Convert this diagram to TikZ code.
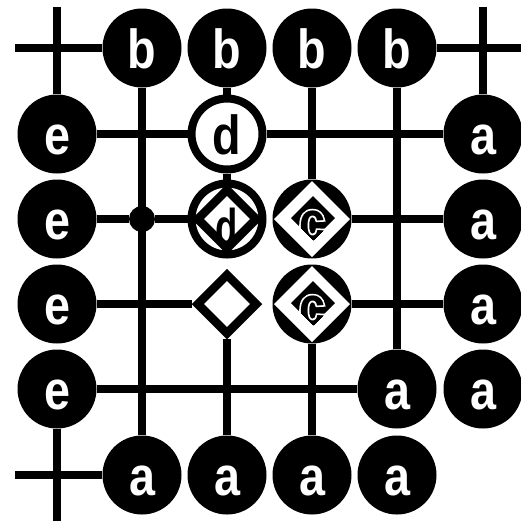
\documentclass[tikz,border=0pt]{standalone}
\usepackage{fontspec}
\newfontfamily\labfont[FakeStretch=0.85]{Liberation Sans}
\newfontfamily\halofont[FakeStretch=0.85,FakeBold=6]{Liberation Sans}
\usetikzlibrary{shapes.geometric,calc}
\tikzset{
  lbl/.style={font=\labfont\bfseries\fontsize{55}{55}\selectfont, text height=40pt, text depth=0pt, inner sep=0pt},
  halo/.style={font=\halofont\bfseries\fontsize{55}{55}\selectfont, text height=40pt, text depth=0pt, inner sep=0pt, text=white},
  blk/.style={circle, fill=black, minimum size=79pt, inner sep=0pt, lbl, text=white},
  ring/.style={circle, draw=black, line width=8pt, fill=white, minimum size=71pt, inner sep=0pt, lbl, text=black},
  wire/.style={line width=7.5pt},
  dmd/.style={diamond, draw=black, line width=8.5pt, fill=white, minimum width=62pt, minimum height=62pt, inner sep=0pt},
  joint/.style={circle, fill=black, minimum size=26pt, inner sep=0pt},
}
\begin{document}
\begin{tikzpicture}[x=1pt,y=-1pt]
\useasboundingbox (0,0) rectangle (521,520);
\clip (0,0) rectangle (521,520);
% top row
\node[blk] (b1) at (142,48) {b};
\node[blk] (b2) at (227,48) {b};
\node[blk] (b3) at (312,48) {b};
\node[blk] (b4) at (397,48) {b};
% left column
\node[blk] (e1) at (57,134) {e};
\node[blk] (e2) at (57,219) {e};
\node[blk] (e3) at (57,304) {e};
\node[blk] (e4) at (57,389) {e};
% right column
\node[blk] (r1) at (483,134) {a};
\node[blk] (r2) at (483,219) {a};
\node[blk] (r3) at (483,304) {a};
\node[blk] (r4) at (483,389) {a};
\node[blk] (a44) at (397,389) {a};
% bottom row
\node[blk] (u1) at (142,475) {a};
\node[blk] (u2) at (227,475) {a};
\node[blk] (u3) at (312,475) {a};
\node[blk] (u4) at (397,475) {a};
% inner
\node[ring] (d1) at (227,134) {d};
\node[joint] (jt) at (142,219) {};
\node[ring] (d2) at (227,219) {};
\node[dmd] (d2m) at (d2) {};
\node[lbl, text=black] (d2t) at (227,225) {\scalebox{0.78}[0.94]{d}};
\node[dmd] (dm) at (227,304) {};
% c nodes
\foreach \nm/\yy in {c2/219,c3/304}{
  \node[blk] (\nm) at (312,\yy) {};
  \fill[white] ($(\nm)+(-38,0)$) -- ($(\nm)+(0,-38)$) -- ($(\nm)+(38,0)$) -- ($(\nm)+(0,38)$) -- cycle;
  \fill[black] ($(\nm)+(-21,-1)$) -- ($(\nm)+(1,-23)$) -- ($(\nm)+(23,-1)$) -- ($(\nm)+(1,21)$) -- cycle;
  \node[halo] (\nm h) at ($(\nm)+(0,1)$) {c};
  \begin{scope}
    \clip ($(\nm)+(-21,-1)$) -- ($(\nm)+(1,-23)$) -- ($(\nm)+(23,-1)$) -- ($(\nm)+(1,21)$) -- cycle;
    \node[lbl, text=black] (\nm t) at ($(\nm)+(0,1)$) {c};
  \end{scope}
}
% free ends
\coordinate (tlW) at (15,48);
\coordinate (tlN) at (57,7);
\coordinate (trE) at (530,48);
\coordinate (trN) at (483,7);
\coordinate (blW) at (15,475);
\coordinate (blS) at (57,530);
% wires
\draw[wire] (tlW) -- (b1);
\draw[wire] (tlN) -- (e1);
\draw[wire] (b4) -- (trE);
\draw[wire] (trN) -- (r1);
\draw[wire] (blW) -- (u1);
\draw[wire] (e4) -- (blS);
% verticals
\draw[wire] (b1) -- (u1);
\draw[wire] (b2) -- (d1);
\draw[wire] (d1) -- (d2);
\draw[wire] (dm) -- (u2);
\draw[wire] (b3) -- (c2);
\draw[wire] (c3) -- (u3);
\draw[wire] (b4) -- (a44);
% horizontals
\draw[wire] (e1) -- (d1);
\draw[wire] (d1) -- (r1);
\draw[wire] (e2) -- (jt);
\draw[wire] (jt) -- (d2);
\draw[wire] (c2) -- (r2);
\draw[wire] (e3) -- (dm);
\draw[wire] (c3) -- (r3);
\draw[wire] (e4) -- (a44);
\end{tikzpicture}
\end{document}
